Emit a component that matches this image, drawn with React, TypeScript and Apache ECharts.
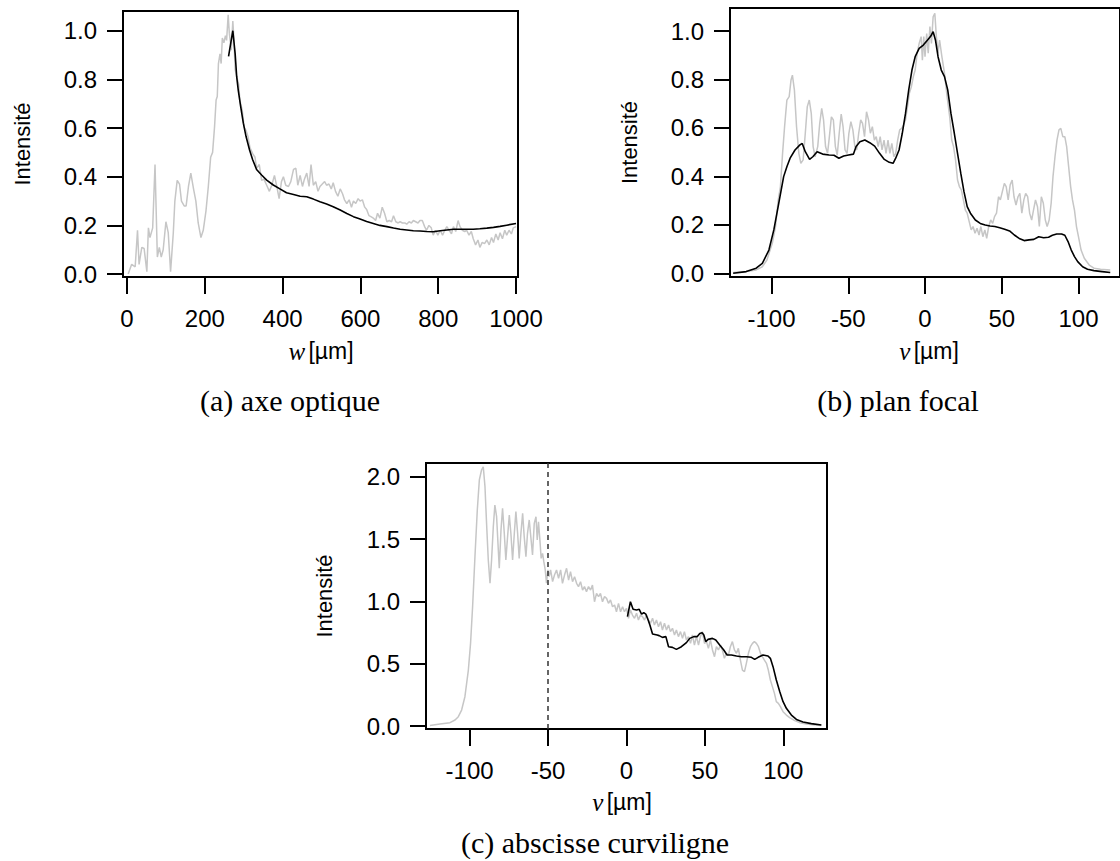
import React, { useEffect, useRef } from "react";
import * as echarts from "echarts";

// ---- tick values ----
const axialTicksX = [0, 200, 400, 600, 800, 1000];
const axialTicksY = [0, 0.2, 0.4, 0.6, 0.8, 1.0];
const focalTicksX = [-100, -50, 0, 50, 100];
const focalTicksY = [0, 0.2, 0.4, 0.6, 0.8, 1.0];
const curvTicksX = [-100, -50, 0, 50, 100];
const curvTicksY = [0, 0.5, 1.0, 1.5, 2.0];
const curvMarker = -50;

// ---- texts ----
const yTitle = "Intensité";
const captionA = "(a) axe optique";
const captionB = "(b) plan focal";
const captionC = "(c) abscisse curviligne";

// ---- (a) axe optique : [w µm, intensity] ----
const axialMeasured: [number, number][] = [
  [3,0.00],[12,0.04],[21,0.03],[27,0.18],[31,0.04],[38,0.11],[44,0.105],[51,0.01],[55,0.19],[59,0.15],
  [66,0.19],[72,0.45],[78,0.07],[83,0.11],[88,0.07],[93,0.10],[100,0.215],[106,0.17],[112,0.01],[119,0.17],
  [123,0.30],[129,0.385],[135,0.37],[140,0.30],[147,0.28],[152,0.28],[158,0.36],[164,0.415],[171,0.35],[177,0.30],
  [183,0.21],[190,0.15],[196,0.18],[203,0.26],[209,0.36],[215,0.48],[220,0.50],[225,0.605],[229,0.715],[232,0.73],
  [235,0.865],[239,0.905],[242,0.865],[245,0.97],[249,0.95],[253,0.98],[256,0.96],[260,1.065],[263,0.99],[268,0.92],
  [272,1.04],[275,0.96],[278,0.84],[282,0.81],[287,0.78],[290,0.715],[296,0.675],[301,0.605],[306,0.59],[311,0.565],
  [316,0.52],[323,0.495],[329,0.48],[333,0.435],[340,0.45],[346,0.385],[352,0.39],[359,0.365],[366,0.34],[372,0.365],
  [379,0.405],[385,0.36],[391,0.31],[397,0.38],[402,0.40],[408,0.365],[415,0.36],[421,0.38],[428,0.43],[434,0.435],
  [439,0.365],[445,0.405],[451,0.36],[456,0.39],[462,0.415],[468,0.36],[473,0.45],[479,0.365],[485,0.38],[491,0.34],
  [496,0.36],[502,0.37],[508,0.38],[513,0.365],[519,0.37],[525,0.35],[530,0.375],[536,0.34],[542,0.32],[548,0.35],
  [554,0.33],[559,0.305],[565,0.29],[571,0.305],[577,0.275],[582,0.30],[588,0.29],[594,0.31],[599,0.30],[605,0.305],
  [611,0.275],[616,0.265],[622,0.24],[628,0.235],[633,0.23],[639,0.22],[644,0.25],[650,0.23],[656,0.275],[662,0.25],
  [668,0.215],[674,0.22],[680,0.215],[685,0.24],[691,0.215],[697,0.21],[702,0.215],[708,0.21],[714,0.21],[719,0.205],
  [725,0.215],[731,0.21],[736,0.22],[742,0.215],[748,0.21],[753,0.22],[759,0.22],[765,0.195],[770,0.18],[776,0.20],
  [782,0.19],[787,0.16],[793,0.18],[799,0.16],[805,0.18],[811,0.16],[817,0.18],[822,0.195],[828,0.18],[834,0.165],
  [839,0.195],[845,0.175],[851,0.22],[856,0.195],[862,0.18],[868,0.175],[873,0.18],[879,0.16],[885,0.175],[890,0.145],
  [896,0.12],[902,0.14],[907,0.11],[913,0.13],[919,0.125],[925,0.14],[931,0.12],[937,0.15],[942,0.13],[948,0.165],
  [954,0.14],[959,0.17],[965,0.145],[971,0.18],[976,0.16],[982,0.18],[988,0.165],[993,0.19],[1000,0.195],
];
const axialSim: [number, number][] = [
  [261,0.895],[272,1.0],[278,0.905],[282,0.81],[286,0.755],[292,0.69],[299,0.62],[306,0.565],[315,0.51],[323,0.47],
  [333,0.43],[346,0.407],[359,0.386],[376,0.366],[393,0.35],[410,0.334],[428,0.327],[445,0.32],[462,0.318],[479,0.308],
  [496,0.297],[513,0.288],[530,0.277],[548,0.263],[565,0.249],[582,0.236],[599,0.226],[616,0.216],[633,0.208],[650,0.2],
  [668,0.195],[685,0.189],[702,0.184],[719,0.181],[736,0.178],[753,0.177],[770,0.175],[787,0.174],[805,0.178],[822,0.181],
  [839,0.184],[856,0.184],[873,0.184],[890,0.184],[907,0.186],[925,0.189],[942,0.192],[959,0.196],[976,0.201],[1000,0.208],
];

// ---- (b) plan focal : [v µm, intensity] ----
const focalMeasured: [number, number][] = [
  [-125,0.003],[-116.5,0.007],[-110,0.014],[-106,0.027],[-103,0.055],[-99.5,0.124],[-97.4,0.193],[-95.7,0.30],[-94.2,0.358],[-92.8,0.495],
  [-91.5,0.605],[-90,0.715],[-88.5,0.729],[-87.3,0.798],[-86.4,0.818],[-85.1,0.757],[-83.7,0.605],[-82.2,0.495],[-80.9,0.454],[-79.4,0.468],
  [-78,0.578],[-76.7,0.688],[-75.4,0.715],[-74.1,0.66],[-72.9,0.523],[-71.6,0.481],[-69.9,0.523],[-68.6,0.619],[-67.3,0.681],[-66.1,0.633],
  [-64.8,0.523],[-63.5,0.495],[-62.3,0.564],[-61,0.646],[-59.7,0.633],[-58.4,0.523],[-57.2,0.488],[-55.9,0.578],[-54.6,0.657],[-53.4,0.605],
  [-52.1,0.509],[-50.8,0.495],[-49.6,0.578],[-48.3,0.626],[-47,0.592],[-45.7,0.523],[-44.5,0.509],[-43.2,0.578],[-41.9,0.633],[-40.7,0.619],
  [-39.4,0.564],[-38.1,0.667],[-36.8,0.633],[-35.6,0.578],[-34.3,0.605],[-33,0.55],[-31.8,0.564],[-30.5,0.523],[-29.2,0.564],[-28,0.509],
  [-26.7,0.55],[-25.4,0.495],[-24.1,0.55],[-22.9,0.495],[-21.6,0.536],[-20.3,0.481],[-19.1,0.495],[-17.8,0.55],[-16.5,0.592],[-15.2,0.598],
  [-14,0.612],[-12.7,0.633],[-11.4,0.688],[-10.2,0.743],[-8.9,0.77],[-7.6,0.812],[-6.4,0.839],[-5.1,0.908],[-3.8,0.949],[-2.5,0.977],
  [-1.7,0.88],[-0.8,0.977],[0,0.894],[1.1,0.99],[2.1,0.908],[3.2,1.018],[4.2,0.949],[5.3,1.059],[6.4,1.073],[7.4,0.977],
  [8.5,0.908],[9.5,0.963],[11,0.894],[12.7,0.825],[14.4,0.729],[16.1,0.646],[17.4,0.55],[18.6,0.523],[19.9,0.468],[21.2,0.385],
  [22.4,0.358],[23.7,0.344],[25,0.303],[26.3,0.261],[27.5,0.248],[28.8,0.213],[30.1,0.179],[31.3,0.193],[32.6,0.165],[33.9,0.186],
  [35.2,0.158],[36.4,0.193],[37.7,0.151],[39,0.179],[40.2,0.144],[41.5,0.193],[42.8,0.22],[44.1,0.206],[45.3,0.234],[46.6,0.248],
  [47.9,0.316],[49.1,0.303],[50.4,0.337],[51.7,0.371],[52.9,0.358],[54.2,0.303],[55.5,0.365],[56.8,0.385],[58,0.316],[59.3,0.282],
  [60.6,0.316],[61.8,0.33],[63.1,0.248],[64.4,0.303],[65.6,0.33],[66.9,0.316],[68.2,0.248],[69.5,0.22],[70.7,0.261],[72,0.303],
  [73.3,0.275],[74.5,0.193],[75.8,0.316],[77.1,0.289],[78.4,0.22],[79.6,0.193],[80.9,0.22],[82.2,0.289],[83.4,0.399],[84.7,0.481],
  [86,0.55],[87.3,0.592],[88.5,0.598],[89.8,0.564],[91.1,0.564],[92.3,0.523],[93.6,0.44],[94.9,0.358],[96.1,0.303],[97.4,0.261],
  [98.7,0.193],[100,0.151],[101.7,0.096],[103.8,0.062],[107,0.034],[110.1,0.021],[114.4,0.017],[120.7,0.014],
];
const focalSim: [number, number][] = [
  [-125,0.0],[-116.5,0.007],[-110,0.021],[-106,0.041],[-101.7,0.096],[-98.5,0.179],[-95.3,0.289],[-92.1,0.399],[-90,0.44],[-87.9,0.475],
  [-84.7,0.509],[-81.5,0.53],[-80,0.536],[-78,0.502],[-75.2,0.47],[-73.1,0.481],[-70.3,0.502],[-66.7,0.492],[-62.5,0.488],[-59.3,0.487],
  [-56.1,0.475],[-53,0.484],[-49.8,0.488],[-46.6,0.492],[-44.9,0.523],[-42.4,0.543],[-39.2,0.55],[-36,0.539],[-32.8,0.525],[-29.6,0.495],
  [-26.5,0.47],[-23.3,0.458],[-20.8,0.454],[-19.1,0.475],[-16.9,0.509],[-14.8,0.578],[-12.7,0.66],[-10.6,0.757],[-8.5,0.839],[-6.4,0.894],
  [-3.8,0.928],[-1.1,0.942],[1.7,0.963],[3.8,0.979],[5.3,0.997],[6.8,0.963],[8.5,0.894],[10.6,0.839],[12.7,0.812],[14.8,0.757],
  [16.9,0.66],[19.1,0.578],[21.2,0.495],[23.3,0.413],[25.4,0.337],[27.5,0.275],[29.6,0.248],[32.8,0.22],[36,0.206],[39.2,0.199],
  [42.4,0.195],[45.5,0.193],[48.7,0.188],[51.9,0.182],[55.1,0.175],[58.2,0.158],[61.4,0.144],[64.6,0.135],[67.8,0.138],[70.9,0.14],
  [74.1,0.151],[77.3,0.147],[80.5,0.149],[83,0.157],[85.8,0.162],[89,0.162],[91.1,0.157],[93.2,0.131],[95.3,0.096],[97.4,0.069],
  [99.5,0.048],[102.7,0.027],[105.9,0.017],[110.1,0.011],[115.4,0.007],[120.7,0.003],
];

// ---- (c) abscisse curviligne : [v µm, intensity] ----
const curvMeasured: [number, number][] = [
  [-125.3,0.005],[-118.9,0.016],[-112.5,0.027],[-109.3,0.048],[-107.2,0.075],[-105.1,0.128],[-103,0.235],[-100.8,0.449],[-99.4,0.663],[-98.1,0.957],
  [-96.6,1.358],[-95.1,1.733],[-93.8,1.974],[-92.4,2.054],[-91.3,2.08],[-90.2,1.92],[-89.2,1.626],[-88.1,1.332],[-87,1.145],[-86,1.332],
  [-84.9,1.599],[-83.9,1.773],[-82.8,1.679],[-81.7,1.412],[-81.1,1.265],[-80,1.573],[-79,1.746],[-77.9,1.546],[-76.9,1.332],[-75.8,1.519],
  [-74.7,1.693],[-73.7,1.546],[-72.6,1.332],[-71.5,1.546],[-70.5,1.72],[-69.4,1.546],[-68.4,1.345],[-67.3,1.546],[-66.2,1.706],[-65.2,1.519],
  [-64.1,1.359],[-63.1,1.546],[-62,1.653],[-60.9,1.506],[-59.9,1.372],[-58.8,1.626],[-57.7,1.679],[-56.9,1.492],[-56.1,1.639],[-55.2,1.492],
  [-54.4,1.345],[-53.5,1.385],[-52.7,1.318],[-51.8,1.252],[-51,1.145],[-50.1,1.252],[-49.3,1.198],[-48.4,1.252],[-47.1,1.158],[-45.9,1.211],
  [-44.6,1.252],[-43.3,1.185],[-42,1.252],[-40.8,1.145],[-39.5,1.211],[-38.2,1.265],[-36.9,1.171],[-35.7,1.238],[-34.4,1.158],[-33.1,1.198],
  [-31.8,1.145],[-30.6,1.118],[-29.3,1.158],[-28,1.091],[-26.8,1.118],[-25.5,1.078],[-24.2,1.118],[-22.9,1.091],[-21.7,1.131],[-20.4,0.997],
  [-19.1,1.064],[-17.8,1.038],[-16.6,1.064],[-15.3,0.997],[-14,1.038],[-12.7,1.024],[-11.5,0.984],[-10.2,1.011],[-8.9,0.957],[-7.6,0.971],
  [-6.4,0.917],[-5.1,0.984],[-3.8,0.917],[-2.5,0.957],[-1.3,0.917],[0,0.944],[1.3,0.864],[2.5,0.931],[3.8,0.89],[5.1,0.864],
  [6.4,0.904],[7.6,0.85],[8.9,0.89],[10.2,0.877],[11.5,0.85],[12.7,0.89],[14,0.85],[15.3,0.824],[16.6,0.864],[17.8,0.81],
  [19.1,0.85],[20.4,0.797],[21.7,0.837],[22.9,0.77],[24.2,0.824],[25.5,0.77],[26.8,0.81],[28,0.757],[29.3,0.784],[30.6,0.73],
  [31.8,0.77],[33.1,0.717],[34.4,0.757],[35.7,0.703],[36.9,0.757],[38.2,0.69],[39.5,0.717],[40.8,0.663],[42,0.73],[43.3,0.65],
  [44.6,0.717],[45.9,0.65],[47.1,0.717],[48.4,0.757],[49.7,0.663],[51,0.677],[52.2,0.623],[53.5,0.69],[54.8,0.61],[56.1,0.556],
  [57.3,0.636],[58.6,0.61],[59.9,0.65],[61.1,0.61],[62.4,0.543],[63.7,0.583],[65,0.57],[66.2,0.636],[67.5,0.677],[68.8,0.61],
  [70.1,0.583],[71.3,0.623],[72.6,0.529],[73.9,0.449],[75.2,0.436],[76.4,0.503],[77.7,0.583],[79,0.636],[80.3,0.663],[81.5,0.677],
  [82.8,0.663],[84.1,0.636],[85.4,0.583],[86.6,0.556],[87.9,0.529],[89.2,0.503],[90.4,0.449],[91.7,0.369],[93,0.316],[94.3,0.262],
  [95.5,0.195],[96.8,0.182],[98.1,0.155],[99.8,0.115],[101.9,0.088],[104,0.067],[107.2,0.043],[110.4,0.027],[114.6,0.016],[120,0.008],
  [124.2,0.005],
];
const curvSim: [number, number][] = [
  [0.6,0.877],[2.5,0.997],[4.2,0.936],[6.4,0.931],[8.1,0.936],[9.6,0.898],[11,0.909],[12.3,0.898],[13.8,0.85],[14.9,0.81],
  [16.6,0.738],[19.5,0.73],[20.8,0.725],[22.9,0.711],[25.1,0.717],[26.8,0.636],[29.3,0.631],[31.8,0.615],[35,0.636],[38.2,0.669],
  [40.3,0.703],[42.9,0.717],[45,0.717],[46.7,0.743],[48.2,0.749],[49.3,0.73],[50.5,0.677],[52,0.695],[54.8,0.703],[56.9,0.69],
  [59.4,0.65],[62,0.61],[64.1,0.57],[66.9,0.57],[70.1,0.562],[73.2,0.556],[76.4,0.556],[79.6,0.551],[81.7,0.535],[83.9,0.551],
  [87,0.57],[90.2,0.562],[91.7,0.543],[93.4,0.476],[95.5,0.369],[97.7,0.275],[99.8,0.195],[101.9,0.142],[105.1,0.088],[108.3,0.053],
  [112.5,0.032],[117.8,0.019],[124.2,0.008],
];

const SANS = "'Liberation Sans', Arial, Helvetica, sans-serif";
const SERIF = "'Liberation Serif', 'Times New Roman', serif";
const GRAY = "#c6c6c6";
const TICK_FS = 24;

function xAxisCfg(gridIndex: number, min: number, max: number, ticks: number[]) {
  return {
    type: "value",
    gridIndex,
    min,
    max,
    axisLine: { show: true, onZero: false, lineStyle: { color: "#000", width: 2 } },
    axisTick: { show: true, inside: false, length: 17, lineStyle: { color: "#000", width: 2 }, customValues: ticks },
    axisLabel: {
      show: true,
      customValues: ticks,
      margin: 29,
      color: "#000",
      fontSize: TICK_FS,
      fontFamily: SANS,
      formatter: (v: number) => String(Math.round(v)),
    },
    splitLine: { show: false },
  };
}

function yAxisCfg(gridIndex: number, min: number, max: number, ticks: number[]) {
  return {
    type: "value",
    gridIndex,
    min,
    max,
    axisLine: { show: true, onZero: false, lineStyle: { color: "#000", width: 2 } },
    axisTick: { show: true, inside: false, length: 16, lineStyle: { color: "#000", width: 2 }, customValues: ticks },
    axisLabel: {
      show: true,
      customValues: ticks,
      margin: 26,
      color: "#000",
      fontSize: TICK_FS,
      fontFamily: SANS,
      formatter: (v: number) => v.toFixed(1),
    },
    splitLine: { show: false },
  };
}

function lineSeries(idx: number, data: [number, number][], color: string, width: number, z: number, extra: any = {}) {
  return {
    type: "line",
    xAxisIndex: idx,
    yAxisIndex: idx,
    data,
    symbol: "none",
    showSymbol: false,
    silent: true,
    z,
    lineStyle: { color, width },
    ...extra,
  };
}

function yTitleText(x: number, y: number) {
  return {
    type: "text",
    x,
    y,
    rotation: Math.PI / 2,
    style: { text: yTitle, fontSize: 22, fontFamily: SANS, fill: "#000", align: "center", verticalAlign: "middle" },
  };
}

function xTitleText(x: number, y: number, sym: string) {
  return {
    type: "text",
    x,
    y,
    style: {
      text: `{i|${sym}} {n|[µm]}`,
      align: "center",
      verticalAlign: "middle",
      rich: {
        i: { fontFamily: SERIF, fontStyle: "italic", fontSize: 25, fill: "#000" },
        n: { fontFamily: SANS, fontSize: 23, fill: "#000" },
      },
    },
  };
}

function captionText(x: number, y: number, text: string) {
  return {
    type: "text",
    x,
    y,
    style: { text, fontSize: 30, fontFamily: SERIF, fill: "#000", align: "center", verticalAlign: "middle" },
  };
}

export default function App() {
  const ref = useRef<HTMLDivElement>(null);

  useEffect(() => {
    if (!ref.current) return;
    const chart = echarts.init(ref.current, undefined, { renderer: "svg" });
    const gridBase = { show: true, borderColor: "#000", borderWidth: 2, backgroundColor: "transparent", containLabel: false };
    chart.setOption({
      animation: false,
      backgroundColor: "#fff",
      grid: [
        { ...gridBase, left: 123, top: 11, width: 395, height: 266 },
        { ...gridBase, left: 730, top: 8, width: 400, height: 269 },
        { ...gridBase, left: 426, top: 463, width: 401, height: 266 },
      ],
      xAxis: [
        xAxisCfg(0, -10.3, 1005, axialTicksX),
        xAxisCfg(1, -127.06, 127.06, focalTicksX),
        xAxisCfg(2, -127.8, 127.8, curvTicksX),
      ],
      yAxis: [
        yAxisCfg(0, -0.012, 1.081, axialTicksY),
        yAxisCfg(1, -0.0153, 1.095, focalTicksY),
        yAxisCfg(2, -0.024, 2.11, curvTicksY),
      ],
      series: [
        lineSeries(0, axialMeasured, GRAY, 1.5, 2),
        lineSeries(0, axialSim, "#000", 1.6, 3),
        lineSeries(1, focalMeasured, GRAY, 1.5, 2),
        lineSeries(1, focalSim, "#000", 1.6, 3),
        lineSeries(2, curvMeasured, GRAY, 1.5, 2, {
          markLine: {
            silent: true,
            symbol: ["none", "none"],
            label: { show: false },
            lineStyle: { color: "#333", type: [5, 4], width: 1.5 },
            data: [{ xAxis: curvMarker }],
          },
        }),
        lineSeries(2, curvSim, "#000", 1.6, 3),
      ],
      graphic: [
        yTitleText(22, 144),
        yTitleText(629, 142.5),
        yTitleText(324, 596),
        xTitleText(321, 351, "w"),
        xTitleText(929, 351, "v"),
        xTitleText(622, 802, "v"),
        captionText(290, 400, captionA),
        captionText(898, 400, captionB),
        captionText(595, 842, captionC),
      ],
    });
    return () => chart.dispose();
  }, []);

  return <div ref={ref} style={{ position: "fixed", left: 0, top: 0, width: 1120, height: 861 }} />;
}
